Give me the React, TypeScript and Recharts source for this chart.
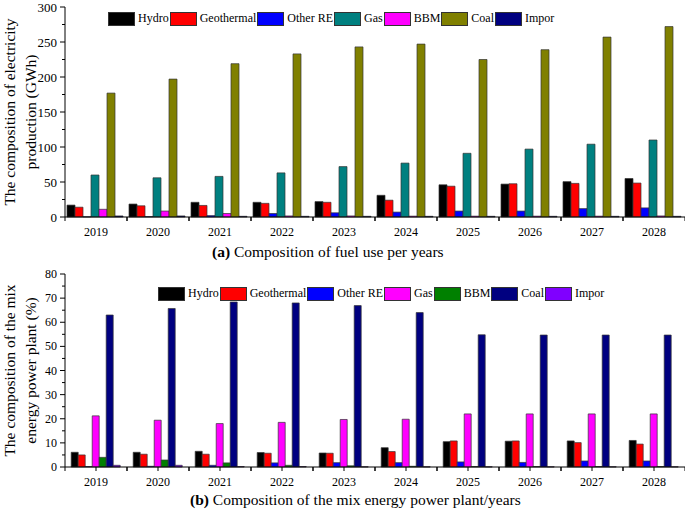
import { BarChart, Bar, XAxis, YAxis } from 'recharts'

const years = ['2019', '2020', '2021', '2022', '2023', '2024', '2025', '2026', '2027', '2028']

// (a) fuel use, GWh
const fuelHydro = [17, 18.5, 21, 21, 22, 31, 46, 47, 50.5, 55]
const fuelGeothermal = [14, 16, 16.5, 19.5, 21, 24, 44, 47.5, 48, 48.5]
const fuelOtherRE = [0.3, 0.6, 2, 5, 6, 7, 8.5, 8.5, 12, 13]
const fuelGas = [60, 56, 58, 63, 72, 77, 91, 97, 104, 110]
const fuelBBM = [11, 8.5, 5, 1.5, 1.5, 1.2, 1.2, 1.2, 1.2, 1.5]
const fuelCoal = [177, 197, 219, 233, 243, 247, 225, 239, 257, 272]
const fuelImpor = [1.5, 1.5, 1, 1, 1, 1, 1, 1, 1, 1]

// (b) mix energy power plant, %
const mixHydro = [6.1, 6.1, 6.5, 6, 5.8, 8, 10.5, 10.7, 10.8, 11]
const mixGeothermal = [5, 5.3, 5.3, 5.7, 5.7, 6.4, 10.8, 10.8, 10.1, 9.5]
const mixOtherRE = [0.2, 0.3, 0.7, 1.7, 1.8, 1.8, 2.1, 1.9, 2.5, 2.5]
const mixGas = [21.2, 19.4, 18, 18.5, 19.7, 19.8, 22, 22, 22, 22]
const mixBBM = [4, 2.9, 1.7, 0.7, 0.5, 0.3, 0.2, 0.2, 0.2, 0.2]
const mixCoal = [63, 65.7, 68.4, 68, 66.9, 64, 54.8, 54.7, 54.7, 54.7]
const mixImpor = [0.7, 0.7, 0.2, 0.2, 0.1, 0.1, 0.1, 0.1, 0.1, 0.1]

const fuelTicks = [0, 25, 50, 75, 100, 125, 150, 175, 200, 225, 250, 275, 300]
const mixTicks = [0, 5, 10, 15, 20, 25, 30, 35, 40, 45, 50, 55, 60, 65, 70, 75, 80]

const FONT = 'Liberation Serif, serif'
const PLOT_W = 620

type Series = { key: string; name: string; color: string; values: number[] }

const fuelSeries: Series[] = [
  { key: 'hydro', name: 'Hydro', color: '#000000', values: fuelHydro },
  { key: 'geothermal', name: 'Geothermal', color: '#ff0000', values: fuelGeothermal },
  { key: 'otherRE', name: 'Other RE', color: '#0000ff', values: fuelOtherRE },
  { key: 'gas', name: 'Gas', color: '#008080', values: fuelGas },
  { key: 'bbm', name: 'BBM', color: '#ff00ff', values: fuelBBM },
  { key: 'coal', name: 'Coal', color: '#808000', values: fuelCoal },
  { key: 'impor', name: 'Impor', color: '#000080', values: fuelImpor },
]

const mixSeries: Series[] = [
  { key: 'hydro', name: 'Hydro', color: '#000000', values: mixHydro },
  { key: 'geothermal', name: 'Geothermal', color: '#ff0000', values: mixGeothermal },
  { key: 'otherRE', name: 'Other RE', color: '#0000ff', values: mixOtherRE },
  { key: 'gas', name: 'Gas', color: '#ff00ff', values: mixGas },
  { key: 'bbm', name: 'BBM', color: '#008000', values: mixBBM },
  { key: 'coal', name: 'Coal', color: '#000080', values: mixCoal },
  { key: 'impor', name: 'Impor', color: '#8000ff', values: mixImpor },
]

const toRows = (series: Series[]) =>
  years.map((year, i) => {
    const row: Record<string, any> = { year }
    series.forEach((s) => (row[s.key] = s.values[i]))
    return row
  })

const YTick = ({ x, y, payload, step, fontSize }: any) => {
  const major = payload.value % step === 0
  return (
    <g>
      <line x1={x - (major ? 5 : 3)} x2={x} y1={y} y2={y} stroke="#000" strokeWidth={1} />
      {major && (
        <text x={x - 8} y={y} textAnchor="end" dominantBaseline="central" fontSize={fontSize} fontFamily={FONT} fill="#000">
          {payload.value}
        </text>
      )}
    </g>
  )
}

const XTick = ({ x, y, payload, centerTick }: any) => {
  const half = PLOT_W / years.length / 2
  return (
    <g>
      <line x1={x - half} x2={x - half} y1={y} y2={y + 4} stroke="#000" />
      <line x1={x + half} x2={x + half} y1={y} y2={y + 4} stroke="#000" />
      {centerTick && <line x1={x} x2={x} y1={y} y2={y + 4} stroke="#000" />}
      <text x={x} y={y + 15} textAnchor="middle" dominantBaseline="central" fontSize={12} fontFamily={FONT} fill="#000">
        {payload.value}
      </text>
    </g>
  )
}

const AxisTitle = ({ viewBox, lines }: any) => {
  const cy = viewBox.y + viewBox.height / 2
  return (
    <g>
      {lines.map((line: string, i: number) => (
        <text
          key={i}
          x={9 + i * 21}
          y={cy}
          transform={`rotate(-90, ${9 + i * 21}, ${cy})`}
          textAnchor="middle"
          dominantBaseline="central"
          fontSize={15.5}
          fontFamily={FONT}
          fill="#000"
        >
          {line}
        </text>
      ))}
    </g>
  )
}

const Legend = ({ series, left, top }: { series: Series[]; left: number; top: number }) => (
  <div style={{ position: 'absolute', left, top, display: 'flex', alignItems: 'center', fontFamily: FONT, fontSize: 12 }}>
    {series.map((s) => (
      <div key={s.key} style={{ display: 'flex', alignItems: 'center', marginRight: 1 }}>
        <div style={{ width: 27, height: 14, background: s.color, border: '1px solid #333', boxSizing: 'border-box' }} />
        <span style={{ marginLeft: 3 }}>{s.name}</span>
      </div>
    ))}
  </div>
)

function Panel({ series, ticks, max, step, tickFont, title, centerTick }: any) {
  return (
    <BarChart
      width={685}
      height={centerTick ? 251 : 260}
      data={toRows(series)}
      margin={{ top: centerTick ? 14 : 7, right: 0, bottom: centerTick ? 14 : 13, left: 0 }}
      barCategoryGap={centerTick ? '10%' : 2}
      barGap={0}
    >
      <XAxis
        dataKey="year"
        height={30}
        interval={0}
        tickSize={0}
        tickMargin={0}
        tickLine={false}
        axisLine={{ stroke: '#000' }}
        tick={(p: any) => <XTick {...p} centerTick={centerTick} />}
      />
      <YAxis
        width={65}
        domain={[0, max]}
        ticks={ticks}
        interval={0}
        tickSize={0}
        tickMargin={0}
        tickLine={false}
        axisLine={{ stroke: '#000' }}
        tick={(p: any) => <YTick {...p} step={step} fontSize={tickFont} />}
        label={{ content: (p: any) => <AxisTitle {...p} lines={title} /> }}
      />
      {series.map((s: Series) => (
        <Bar key={s.key} dataKey={s.key} name={s.name} fill={s.color} stroke="#333" strokeWidth={0.7} isAnimationActive={false} />
      ))}
    </BarChart>
  )
}

export default function App() {
  return (
    <div style={{ position: 'absolute', left: 0, top: 0, width: 685, height: 511, background: '#fff', fontFamily: FONT }}>
      <div style={{ position: 'absolute', left: 0, top: 0 }}>
        <Panel
          series={fuelSeries}
          ticks={fuelTicks}
          max={300}
          step={50}
          tickFont={13}
          title={['The composition of electricity', 'production (GWh)']}
          centerTick={false}
        />
      </div>
      <div style={{ position: 'absolute', left: 0, top: 260 }}>
        <Panel
          series={mixSeries}
          ticks={mixTicks}
          max={80}
          step={10}
          tickFont={12}
          title={['The composition of the mix', 'energy power plant (%)']}
          centerTick={true}
        />
      </div>
      <Legend series={fuelSeries} left={108} top={11} />
      <Legend series={mixSeries} left={158} top={286} />
      <div style={{ position: 'absolute', left: 212, top: 243, fontSize: 15.5, whiteSpace: 'nowrap' }}>
        <b>(a)</b> Composition of fuel use per years
      </div>
      <div style={{ position: 'absolute', left: 190, top: 491, fontSize: 15.5, whiteSpace: 'nowrap' }}>
        <b>(b)</b> Composition of the mix energy power plant/years
      </div>
    </div>
  )
}
